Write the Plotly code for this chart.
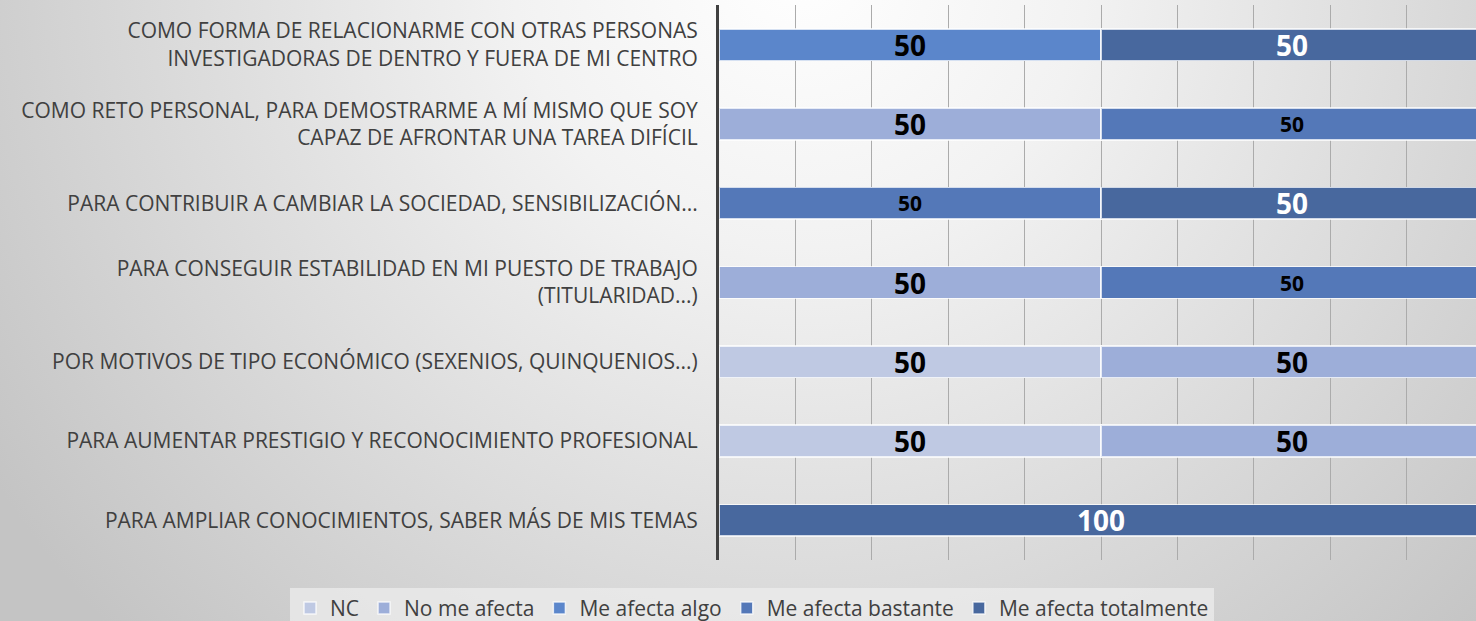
import base64
import plotly.graph_objects as go

categories = [
    "COMO FORMA DE RELACIONARME CON OTRAS PERSONAS<br>INVESTIGADORAS DE DENTRO Y FUERA DE MI CENTRO",
    "COMO RETO PERSONAL, PARA DEMOSTRARME A MÍ MISMO QUE SOY<br>CAPAZ DE AFRONTAR UNA TAREA DIFÍCIL",
    "PARA CONTRIBUIR A CAMBIAR LA SOCIEDAD, SENSIBILIZACIÓN...",
    "PARA CONSEGUIR ESTABILIDAD EN MI PUESTO DE TRABAJO<br>(TITULARIDAD...)",
    "POR MOTIVOS DE TIPO ECONÓMICO (SEXENIOS, QUINQUENIOS...)",
    "PARA AUMENTAR PRESTIGIO Y RECONOCIMIENTO PROFESIONAL",
    "PARA AMPLIAR CONOCIMIENTOS, SABER MÁS DE MIS TEMAS",
]

series_names = ["NC", "No me afecta", "Me afecta algo", "Me afecta bastante", "Me afecta totalmente"]
nc = [None, None, None, None, 50, 50, None]
no_me_afecta = [None, 50, None, 50, 50, 50, None]
me_afecta_algo = [50, None, None, None, None, None, None]
me_afecta_bastante = [None, 50, 50, 50, None, None, None]
me_afecta_totalmente = [50, None, 50, None, None, None, 100]

series_values = [nc, no_me_afecta, me_afecta_algo, me_afecta_bastante, me_afecta_totalmente]
colors = ["#BFC9E3", "#9DAED9", "#5B86CB", "#5478B8", "#48689E"]
label_colors = ["#000000", "#000000", "#000000", "#000000", "#FFFFFF"]
label_sizes = [28, 28, 28, 21, 28]

W, H = 1476, 621

svg = f'''<svg xmlns="http://www.w3.org/2000/svg" width="{W}" height="{H}" viewBox="0 0 {W} {H}">
<defs><radialGradient id="g" gradientUnits="userSpaceOnUse" cx="800" cy="-40" r="960">
<stop offset="0" stop-color="#FFFFFF"/><stop offset="0.3" stop-color="#F2F2F2"/><stop offset="1" stop-color="#C4C4C4"/>
</radialGradient></defs>
<rect x="0" y="0" width="{W}" height="{H}" fill="url(#g)"/></svg>'''
bg_uri = "data:image/svg+xml;base64," + base64.b64encode(svg.encode()).decode()

fig = go.Figure()
for name, vals, col, lc, ls in zip(series_names, series_values, colors, label_colors, label_sizes):
    fig.add_trace(go.Bar(
        name=name, y=categories, x=vals, orientation="h",
        marker=dict(color=col, line=dict(color="rgba(255,255,255,0.75)", width=1.5)),
        texttemplate="<b>%{x}</b>", textposition="inside", insidetextanchor="middle",
        constraintext="none", textangle=0,
        textfont=dict(family="Open Sans, sans-serif", size=ls, color=lc),
        hoverinfo="skip",
    ))

fig.update_layout(
    width=W, height=H,
    barmode="stack", bargap=0.6,
    paper_bgcolor="#D8D8D8", plot_bgcolor="rgba(0,0,0,0)",
    margin=dict(l=719, r=0, t=5, b=61, autoexpand=False),
    images=[dict(source=bg_uri, xref="paper", yref="paper", x=-719/757, y=1+5/555,
                 sizex=W/757, sizey=H/555, xanchor="left", yanchor="top",
                 sizing="stretch", layer="below")],
    xaxis=dict(range=[0, 757/7.64], showgrid=True, gridcolor="#ABABAB", gridwidth=1,
               dtick=10, showticklabels=False, zeroline=False, showline=False, ticks=""),
    yaxis=dict(autorange="reversed", showline=True, linecolor="#404040", linewidth=3,
               ticks="", ticklabelstandoff=14,
               tickfont=dict(family="Open Sans, sans-serif", size=21, color="#404040")),
    legend=dict(orientation="h", traceorder="normal", x=(290 - 719) / 757, xanchor="left",
                y=-0.05, yanchor="top", bgcolor="rgba(236,236,236,0.75)",
                font=dict(family="Open Sans, sans-serif", size=21, color="#404040"),
                itemwidth=30),
    showlegend=True,
)

fig.write_html("out.html", config={"displayModeBar": False},
               post_script="document.body.style.margin='0';document.body.style.overflow='hidden';")
